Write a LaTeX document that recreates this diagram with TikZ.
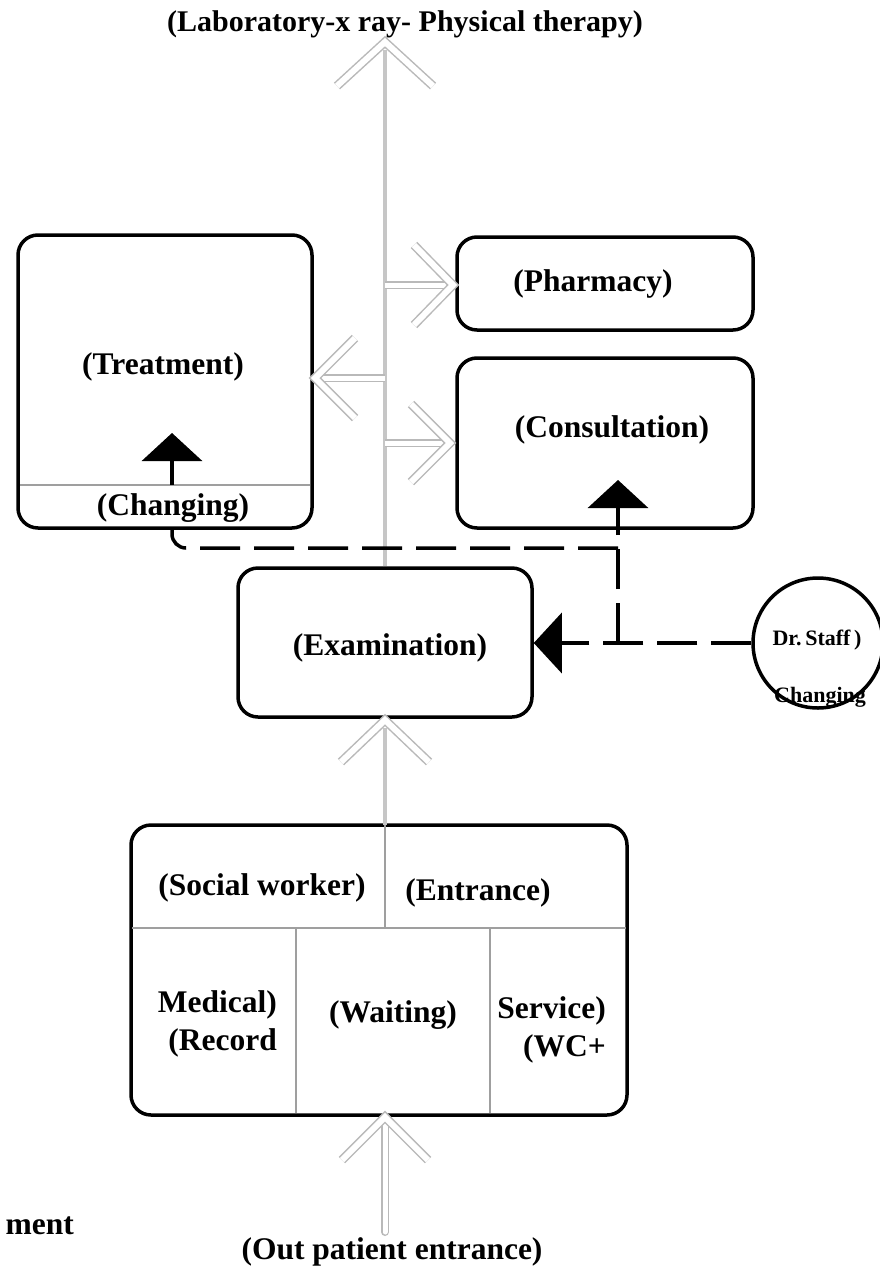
\documentclass[tikz,border=0pt]{standalone}
\usepackage{fontspec}
\setmainfont{Liberation Serif}
\usetikzlibrary{arrows.meta}
\begin{document}
\begin{tikzpicture}[x=1pt,y=-1pt,
  roombox/.style={draw=black, line width=3.5pt, rounded corners=20pt, inner sep=0pt},
  lbl/.style={font=\bfseries\fontsize{31.5}{38}\selectfont, inner sep=0pt},
  slbl/.style={font=\bfseries\fontsize{22}{26}\selectfont, inner sep=0pt},
  shaft/.style={draw=gray!45, line width=4.5pt},
  hollow/.style={draw=gray!55, line width=1.5pt, double=white, double distance=5pt},
  chev/.style={draw=gray!55, line width=1.5pt, double=white, double distance=6pt, line join=miter, line cap=butt},
  divider/.style={draw=gray!75, line width=2.5pt},
  dashline/.style={draw=black, line width=3.5pt, dash pattern=on 40pt off 14pt},
  solidarrow/.style={draw=black, line width=3.5pt, -{Triangle[length=28pt,width=60pt]}}
]
\useasboundingbox[fill=white] (0,0) rectangle (880,1277);

% ---------- boxes ----------
\node[roombox, minimum width=294pt, minimum height=293pt] (treat) at (165,381.5) {};
\node[roombox, minimum width=296pt, minimum height=93pt] (pharm) at (605,283.5) {};
\node[roombox, minimum width=296pt, minimum height=170pt] (consult) at (605,443) {};
\node[roombox, minimum width=294pt, minimum height=149pt] (exam) at (385,642.5) {};
\node[roombox, minimum width=496pt, minimum height=290pt] (lower) at (379,970) {};
\node[draw=black, line width=3.5pt, circle, minimum size=130pt, inner sep=0pt] (dr) at (818,643) {};

% inner lines
\coordinate (tl) at (20,485);
\coordinate (tr) at (310,485);
\draw[divider] (tl) -- (tr);
\coordinate (hl) at (132,928);
\coordinate (hr) at (626,928);
\draw[divider] (hl) -- (hr);
\coordinate (vtop) at (385,825);
\coordinate (vmid) at (385,928);
\draw[divider] (vtop) -- (vmid);
\coordinate (v1t) at (296,928);
\coordinate (v1b) at (296,1113);
\coordinate (v2t) at (490,928);
\coordinate (v2b) at (490,1113);
\draw[divider] (v1t) -- (v1b);
\draw[divider] (v2t) -- (v2b);

% ---------- gray circulation arrows ----------
\coordinate (toptip) at (385,42);
\draw[shaft] (exam.north) -- (385,50);
\draw[chev] (337,86) -- (toptip) -- (433,86);

% to pharmacy
\coordinate (ph0) at (385,285);
\coordinate (phtip) at (453,285);
\draw[hollow] (ph0) -- (446,285);
\draw[chev] (414,245) -- (phtip) -- (414,325);

% to treatment
\coordinate (tr0) at (385,378);
\coordinate (trtip) at (315,378);
\draw[hollow] (tr0) -- (322,378);
\draw[chev] (355,338) -- (trtip) -- (355,418);

% to consultation
\coordinate (co0) at (385,443);
\coordinate (cotip) at (450,443);
\draw[hollow] (co0) -- (443,443);
\draw[chev] (411,404) -- (cotip) -- (411,482);

% lower box to examination
\coordinate (extip) at (385,720);
\draw[shaft] (vtop) -- (385,728);
\draw[chev] (341,762) -- (extip) -- (429,762);

% entrance to lower box
\coordinate (entb) at (385,1232);
\coordinate (enttip) at (385,1117);
\draw[hollow, line cap=round] (entb) -- (385,1124);
\draw[chev] (342,1160) -- (enttip) -- (428,1160);

% ---------- staff circulation (dashed) ----------
\coordinate (jtop) at (618,548);
\coordinate (jmid) at (618,643);
\coordinate (tchg) at (172,528);
\coordinate (tstem) at (172,485);
\coordinate (cstem) at (618,528);

\draw[dashline, rounded corners=14pt] (jtop) -- (172,548) -- (tchg);
\draw[dashline] (jmid) -- (cstem);
\draw[dashline] (dr.west) -- (560,643);
\draw[solidarrow] (560,643) -- (exam.east |- 0,643);
\draw[solidarrow] (cstem) -- (618,480);
\draw[solidarrow] (tstem) -- (172,433);

% ---------- labels ----------
\node[lbl, font=\bfseries\fontsize{30}{36}\selectfont] (ttl) at (405,24) {(Laboratory-x ray- Physical therapy)};
\node[lbl] (ltreat) at (163,367) {(Treatment)};
\node[lbl] (lchg) at (173,508) {(Changing)};
\node[lbl] (lpharm) at (593,284) {(Pharmacy)};
\node[lbl] (lcons) at (612,430) {(Consultation)};
\node[lbl] (lexam) at (390,648) {(Examination)};
\node[slbl] (ldr) at (817,640) {Dr.\,Staff\,)};
\node[slbl] (ldrc) at (820,697) {Changing};
\node[lbl] (lsoc) at (262,888) {(Social worker)};
\node[lbl] (lent) at (478,893) {(Entrance)};
\node[lbl, align=right, anchor=east] (lrec) at (277,1024) {Medical)\\(Record};
\node[lbl] (lwait) at (393,1015) {(Waiting)};
\node[lbl, align=right, anchor=east] (lwc) at (606,1030) {Service)\\(WC+};
\node[lbl] (lout) at (392,1252) {(Out patient entrance)};
\node[lbl, anchor=east] (lment) at (74,1226) {ment};
\end{tikzpicture}
\end{document}
